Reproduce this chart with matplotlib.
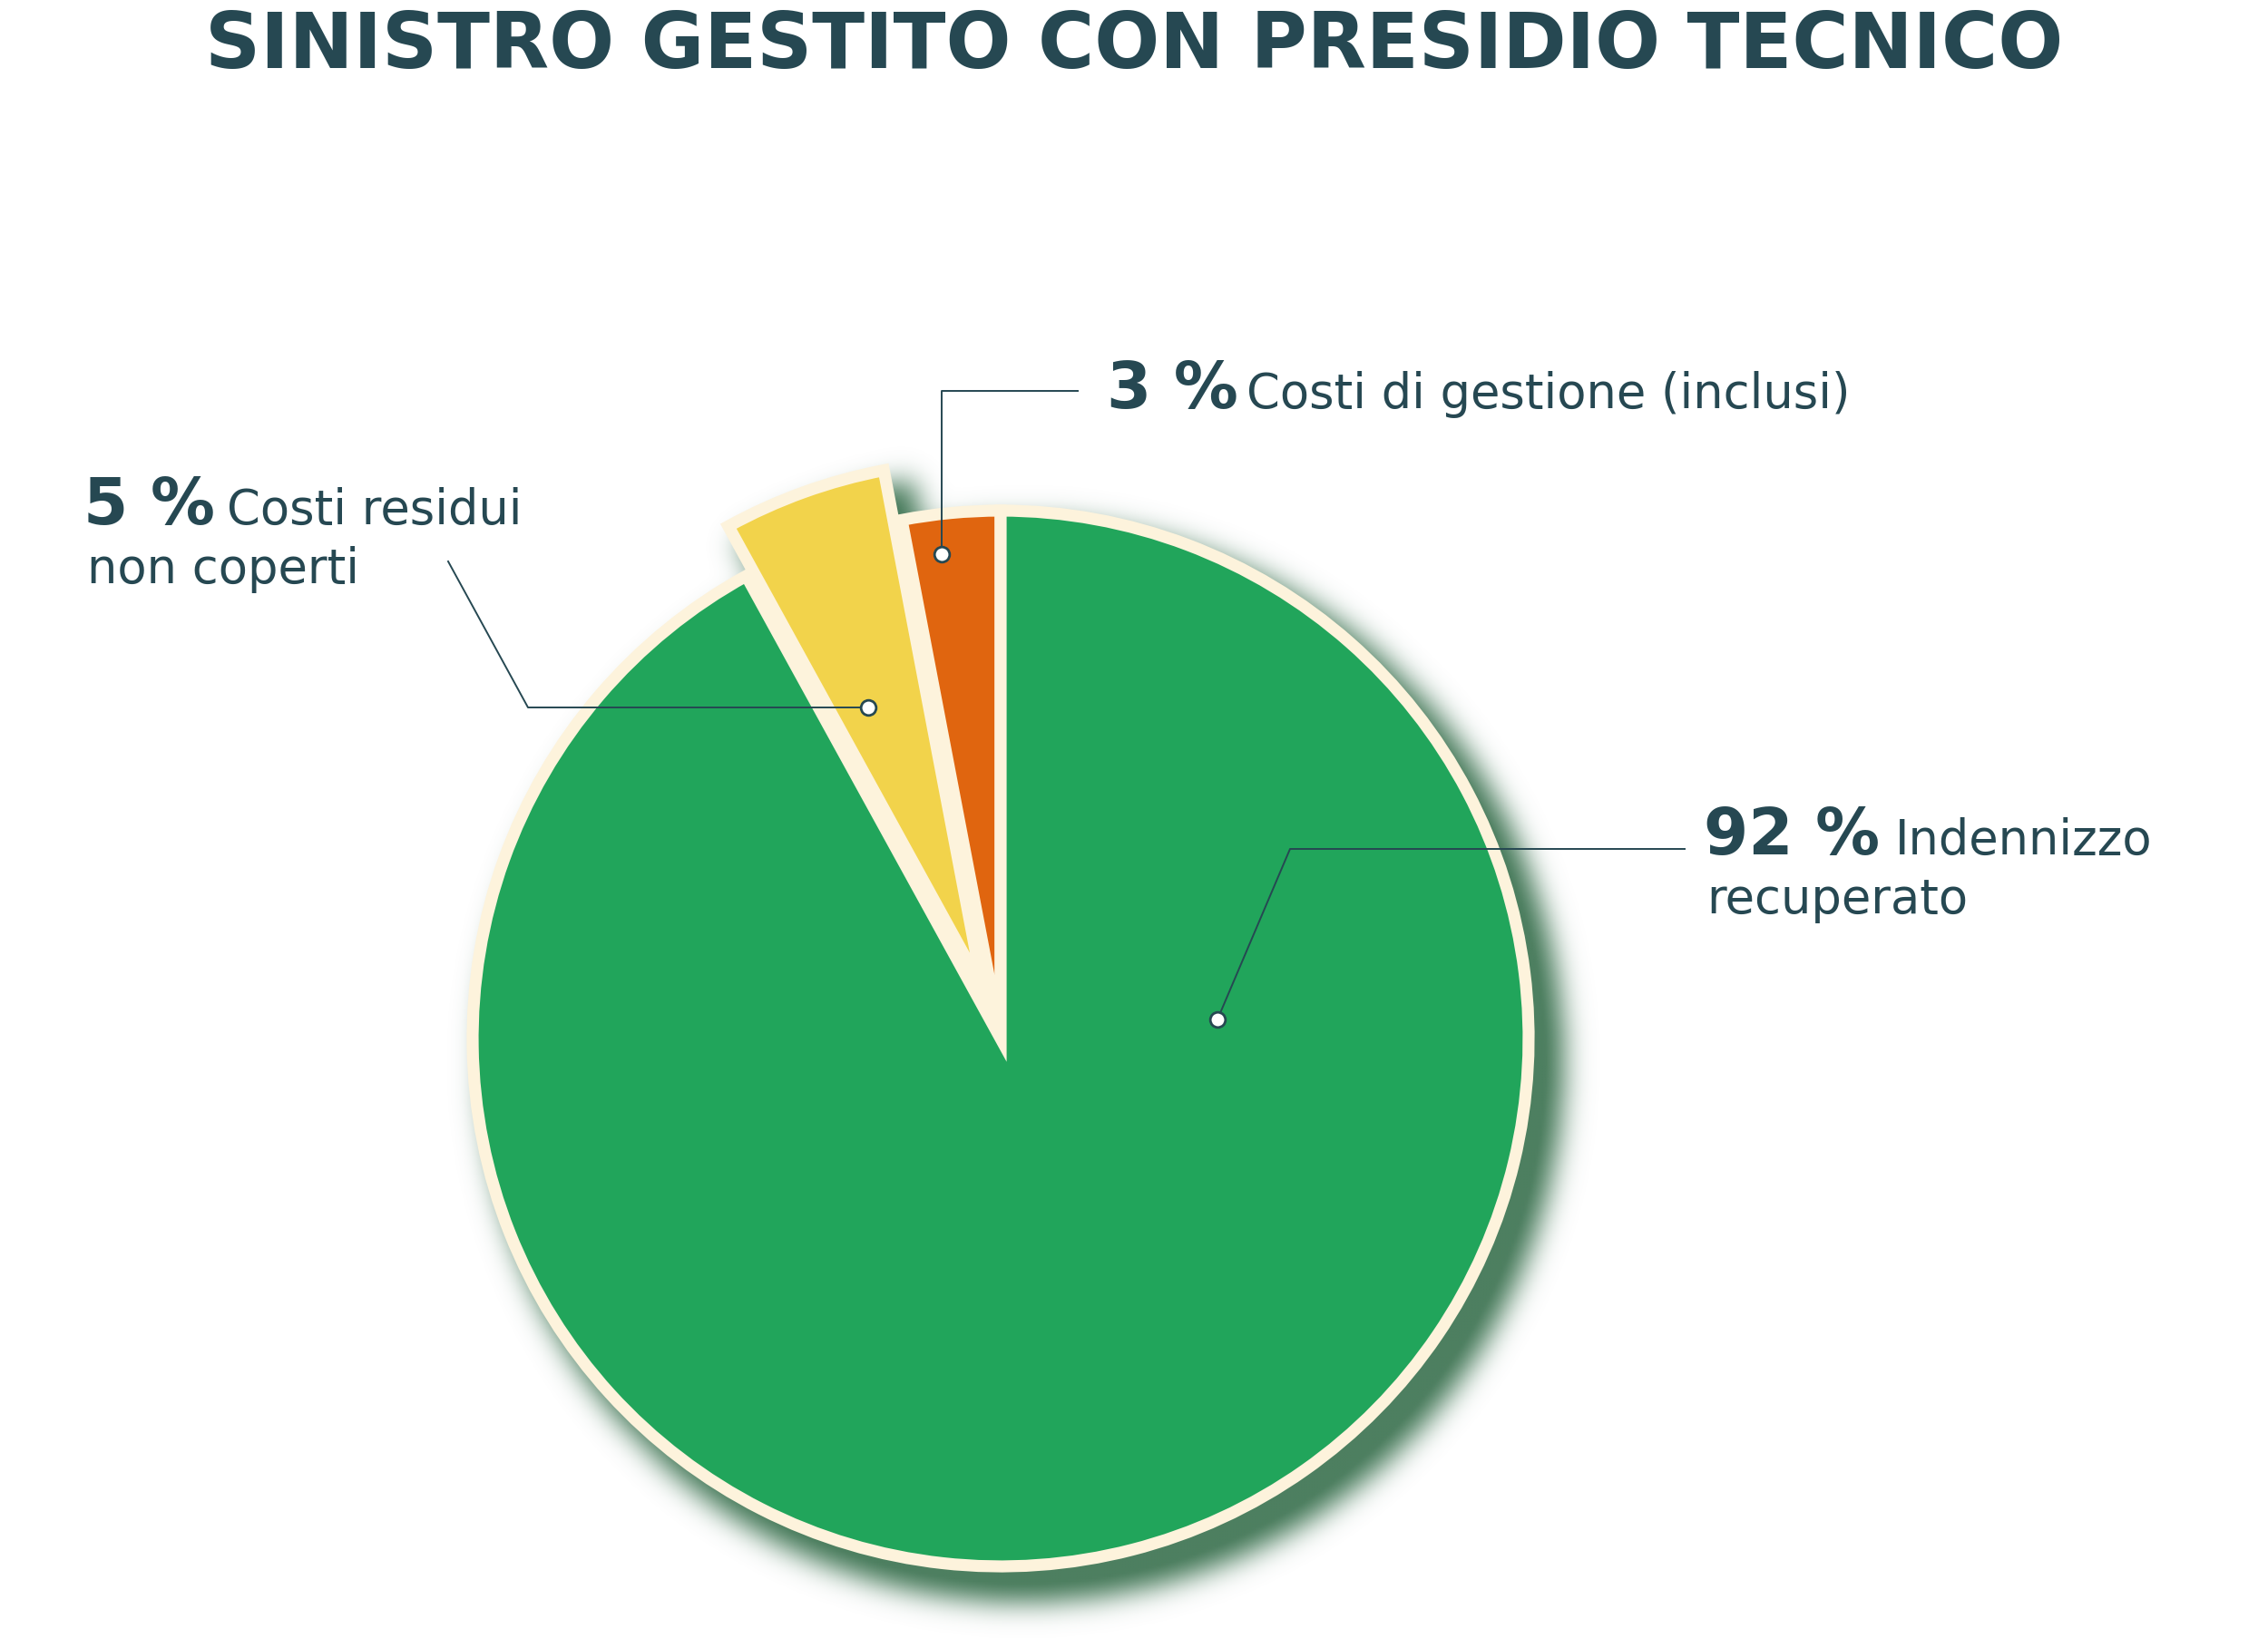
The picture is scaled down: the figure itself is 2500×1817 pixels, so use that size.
import numpy as np
import matplotlib.pyplot as plt

# canvas size in px (dpi 100)
W, H = 2500, 1817

title = "SINISTRO GESTITO CON PRESIDIO TECNICO"
# slices, counter-clockwise from 12 o'clock
shares = [3, 5, 92]
colors = ["#e0650f", "#f2d34b", "#21a55b"]
explode_frac = [0, 0.1, 0]
pct_labels = ["3 %", "5 %", "92 %"]
desc_line1 = ["Costi di gestione (inclusi)", "Costi residui", "Indennizzo"]
desc_line2 = ["", "non coperti", "recuperato"]

ink = "#264852"
cream = "#fdf3dc"
shadow_col = "#4d7f60"

# pie geometry (px, y measured from top)
cx, cy, R = 1103, 1145, 582

# label layout (px, y from top)
pct_x = [1220, 92, 1878]
pct_y = [450, 578, 942]
desc_x = [1374, 250, 2089]
line2_x = [None, 96, 1881]
line2_y = [None, 643, 1007]
leaders = [
    [(1038, 611), (1038, 431), (1188, 431)],
    [(957, 780), (582, 780), (494, 619)],
    [(1342, 1124), (1422, 936), (1857, 936)],
]

def fy(y):
    return H - y

fig = plt.figure(figsize=(W / 100, H / 100), dpi=100)
fig.patch.set_facecolor("white")
ax = fig.add_axes([0, 0, 1, 1])

# pie explode is in data units here, so scale by radius
explode = [e * R for e in explode_frac]

# soft drop shadow under the pie
step = 3
gx = np.arange(0, W, step) + step / 2
gy = np.arange(0, H, step) + step / 2
X, Y = np.meshgrid(gx, gy)
ox, oy, spread = 26, 26, 14
mask = ((X - cx - ox) ** 2 + (Y - cy - oy) ** 2 <= (R + spread) ** 2).astype(float)
# exploded slice casts its own shadow
bounds = np.concatenate([[0], np.cumsum(shares)]) / 100 * 360 + 90
for i, e in enumerate(explode):
    if e == 0:
        continue
    mid = np.radians((bounds[i] + bounds[i + 1]) / 2)
    ecx = cx + e * np.cos(mid) + ox
    ecy = cy - e * np.sin(mid) + oy
    ang = np.degrees(np.arctan2(-(Y - ecy), X - ecx)) % 360
    inside = (ang >= bounds[i] % 360 - 1) & (ang <= bounds[i + 1] % 360 + 1)
    inside &= (X - ecx) ** 2 + (Y - ecy) ** 2 <= (R + spread) ** 2
    mask = np.maximum(mask, inside.astype(float))
sig = 15 / step
k = np.arange(-int(4 * sig), int(4 * sig) + 1)
kern = np.exp(-0.5 * (k / sig) ** 2)
kern /= kern.sum()
blur = np.apply_along_axis(lambda r: np.convolve(r, kern, mode="same"), 1, mask)
blur = np.apply_along_axis(lambda c: np.convolve(c, kern, mode="same"), 0, blur)
rgba = np.zeros(blur.shape + (4,))
rgba[..., :3] = np.array([int(shadow_col[j:j + 2], 16) for j in (1, 3, 5)]) / 255
rgba[..., 3] = np.clip(blur * 1.1, 0, 1)
ax.imshow(rgba, extent=(0, W, 0, H), origin="upper", zorder=1, interpolation="bilinear")

wedges, _ = ax.pie(shares, colors=colors, explode=explode, startangle=90,
                   counterclock=True, center=(cx, fy(cy)), radius=R,
                   wedgeprops=dict(edgecolor=cream, linewidth=9.5, joinstyle="miter"))
for w in wedges:
    w.set_zorder(2)

for pts in leaders:
    xs = [p[0] for p in pts]
    ys = [fy(p[1]) for p in pts]
    ax.plot(xs, ys, color=ink, lw=1.4, zorder=4)
    ax.plot(xs[0], ys[0], "o", ms=12, mfc="white", mec=ink, mew=2, zorder=5)

for i in range(len(shares)):
    ax.text(pct_x[i], fy(pct_y[i]), pct_labels[i], fontsize=51, fontweight="bold",
            family="DejaVu Sans", color=ink, va="baseline", ha="left")
    ax.text(desc_x[i], fy(pct_y[i]), desc_line1[i], fontsize=38,
            family="DejaVu Sans", color=ink, va="baseline", ha="left")
    if desc_line2[i]:
        ax.text(line2_x[i], fy(line2_y[i]), desc_line2[i], fontsize=38,
                family="DejaVu Sans", color=ink, va="baseline", ha="left")

ax.text(W / 2, fy(75), title, fontsize=61, fontweight="bold", family="DejaVu Sans",
        color=ink, ha="center", va="baseline")

ax.set_xlim(0, W)
ax.set_ylim(0, H)
ax.set_aspect("equal")
ax.axis("off")

fig.savefig("out.png", dpi=100, facecolor="white")
